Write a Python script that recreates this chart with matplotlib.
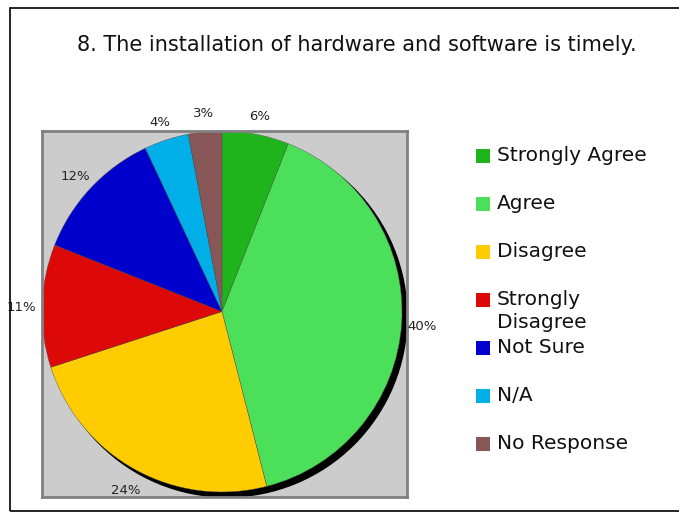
import matplotlib
matplotlib.use("Agg")
import matplotlib.pyplot as plt
from matplotlib.patches import Rectangle, Circle

title = "8. The installation of hardware and software is timely."
labels = ["Strongly Agree", "Agree", "Disagree", "Strongly\nDisagree",
          "Not Sure", "N/A", "No Response"]
values = [6, 40, 24, 11, 12, 4, 3]
colors = ["#20b41c", "#4ce05a", "#ffcc00", "#dd0808",
          "#0000cc", "#00aee8", "#875757"]

W, H = 679, 513
fig = plt.figure(figsize=(W / 100, H / 100), dpi=100)
plt.rcParams["font.family"] = "DejaVu Sans"

# outer frame
fig.patches.append(Rectangle((10 / W, (H - 511) / H), 700 / W, 503 / H,
                             transform=fig.transFigure, fill=False,
                             edgecolor="black", linewidth=1.2))

fig.text(357 / W, 1 - 45 / H, title, ha="center", va="center",
         fontsize=15, color="#111111")

# gray plot box
ax = fig.add_axes([42 / W, 1 - 497 / H, 365 / W, 366 / H])

# shadow
off = 5 / 180
ax.add_patch(Circle((off, -off), 1.0, color="black", zorder=1))

wedges, texts, autotexts = ax.pie(
    values, colors=colors, startangle=90, counterclock=False,
    radius=1.0, autopct="%d%%", pctdistance=1.115, frame=True,
    wedgeprops=dict(linewidth=0.3, edgecolor="#555555", zorder=2),
    textprops=dict(fontsize=9.5, color="#222222"))
for t in autotexts:
    t.set_clip_on(False)
    t.set_zorder(5)
    x, y = t.get_position()
    t.set_position((x, y - 0.015))

ax.set_facecolor("#cccccc")
for s in ax.spines.values():
    s.set_color("#808080")
    s.set_linewidth(2)
ax.set_xticks([])
ax.set_yticks([])
ax.set_xlim(-1.0, 1.0 + off)
ax.set_ylim(-1.0 - off, 1.0)
ax.set_aspect("auto")

# legend
y0 = 156
for i, (lab, col) in enumerate(zip(labels, colors)):
    y = y0 + 48 * i
    fig.patches.append(Rectangle((476 / W, 1 - (y + 7) / H), 14 / W, 14 / H,
                                 transform=fig.transFigure,
                                 facecolor=col, edgecolor="none"))
    fig.text(497 / W, 1 - (y - 10) / H, lab, ha="left", va="top",
             fontsize=14.5, color="#111111", linespacing=1.3)

fig.savefig("out.png", dpi=100)
